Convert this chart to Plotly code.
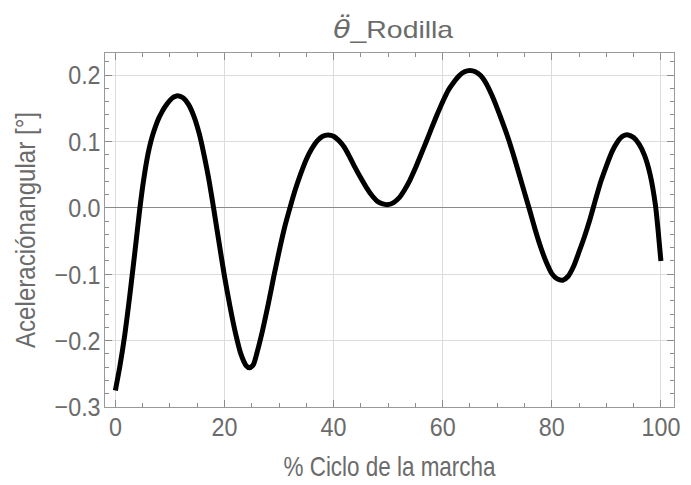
import plotly.graph_objects as go

# Knee angular acceleration over the gait cycle (% of cycle vs value)
ciclo = [0, 0.8, 1.7, 2.6, 3.5, 4.5, 5.0, 5.5, 6.0, 6.5, 7.0, 7.5, 8.0, 8.5, 9.0,
         9.5, 10.0, 10.5, 11.0, 11.4, 12.4, 13.4, 14.4, 15.4, 16.4, 17.2, 18, 19,
         20, 21, 22, 23, 24, 24.6, 25.3, 26, 27, 28, 29, 30, 31, 32, 33, 34, 35,
         36, 37, 38, 39, 40, 41, 42, 43, 44, 45, 46, 47, 48, 49, 50, 51, 52, 53,
         54, 55, 56, 57, 58, 59, 60, 61, 62, 63, 64, 65, 66, 67, 68, 69, 70, 71,
         72, 73, 74, 75, 76, 77, 78, 79, 80, 81, 82, 83, 84, 85, 86, 87, 88, 89,
         90, 91, 92, 93, 94, 95, 96, 97, 98, 99, 99.5, 100]
aceleracion = [-0.275, -0.240, -0.193, -0.135, -0.072, 0.0, 0.032, 0.059, 0.082,
               0.100, 0.114, 0.126, 0.136, 0.144, 0.151, 0.157, 0.162, 0.166,
               0.168, 0.169, 0.166, 0.156, 0.138, 0.111, 0.074, 0.040, 0.0, -0.052,
               -0.103, -0.148, -0.188, -0.220, -0.238, -0.241, -0.236, -0.217,
               -0.184, -0.146, -0.105, -0.066, -0.030, 0.0, 0.028, 0.052, 0.073,
               0.089, 0.101, 0.108, 0.110, 0.108, 0.101, 0.091, 0.076, 0.060, 0.045,
               0.031, 0.019, 0.010, 0.006, 0.005, 0.008, 0.015, 0.027, 0.042, 0.060,
               0.080, 0.100, 0.121, 0.141, 0.160, 0.177, 0.189, 0.199, 0.205, 0.207,
               0.205, 0.199, 0.187, 0.170, 0.150, 0.128, 0.105, 0.079, 0.051, 0.023,
               -0.005, -0.034, -0.060, -0.082, -0.099, -0.107, -0.109, -0.103,
               -0.088, -0.066, -0.043, -0.017, 0.012, 0.040, 0.063, 0.084, 0.099,
               0.108, 0.110, 0.106, 0.096, 0.079, 0.051, 0.004, -0.035, -0.080]

x_ticks = [0, 20, 40, 60, 80, 100]
y_ticks = [-0.3, -0.2, -0.1, 0.0, 0.1, 0.2]
y_tick_text = ["\u22120.3", "\u22120.2", "\u22120.1", "0.0", "0.1", "0.2"]

FONT = "Liberation Sans, Arial, sans-serif"
TXT = "#6b6b6b"
FRAME = "#9a9a9a"
GRID = "#dcdcdc"

fig = go.Figure()
fig.add_trace(go.Scatter(
    x=ciclo, y=aceleracion, mode="lines",
    line=dict(color="black", width=5, shape="spline", smoothing=0.6),
    showlegend=False, hoverinfo="skip",
))

axis_common = dict(
    showline=True, linecolor=FRAME, linewidth=1.2, mirror="ticks",
    ticks="inside", ticklen=7, tickcolor="#8c8c8c", tickwidth=1,
    showgrid=True, gridcolor=GRID, gridwidth=1,
    tickfont=dict(family=FONT, size=26.5, color=TXT),
)

fig.update_xaxes(
    range=[-1.9, 102.4], tickvals=x_ticks, ticktext=[str(v) for v in x_ticks],
    zeroline=False, ticklabelstandoff=-4,
    minor=dict(dtick=5, tick0=0, ticks="inside", ticklen=4, tickcolor="#8c8c8c", showgrid=False),
    title=dict(text="% Ciclo de la marcha", font=dict(family=FONT, size=28, color=TXT), standoff=15),
    **axis_common,
)
fig.update_yaxes(
    range=[-0.3, 0.2334], tickvals=y_ticks, ticktext=y_tick_text,
    zeroline=True, zerolinecolor="#8a8a8a", zerolinewidth=1.2, ticklabelstandoff=-2,
    minor=dict(dtick=0.02, tick0=0, ticks="inside", ticklen=4, tickcolor="#8c8c8c", showgrid=False),
    title=dict(text="Aceleraciónangular [°]", font=dict(family=FONT, size=27, color=TXT), standoff=4),
    **axis_common,
)

fig.update_layout(
    width=691, height=485,
    margin=dict(l=104.5, r=8.3, t=52.7, b=76.7),
    paper_bgcolor="white", plot_bgcolor="white",
    title=dict(text="<i><span style='font-family:DejaVu Sans'>θ\u0308</span></i>_Rodilla",
               x=0.569, xanchor="center", y=0.94, yanchor="middle",
               font=dict(family=FONT, size=24, color=TXT)),
)

# Narrow the label text horizontally, keeping glyph height
narrow_text = """
var gd = document.getElementById('{plot_id}');
function squeeze(sel, ratio, target) {
  gd.querySelectorAll(sel).forEach(function (t) {
    var len = t.getComputedTextLength();
    var w = target ? target : len * ratio;
    t.setAttribute('textLength', w.toFixed(2));
    t.setAttribute('lengthAdjust', 'spacingAndGlyphs');
  });
}
squeeze('.xtick text', 0.88);
squeeze('.ytick text', 0.88);
squeeze('.xtitle', 0, 212);
squeeze('.ytitle', 0, 236);
squeeze('.gtitle', 0, 120);
"""

fig.write_html("out.html", post_script=narrow_text)
